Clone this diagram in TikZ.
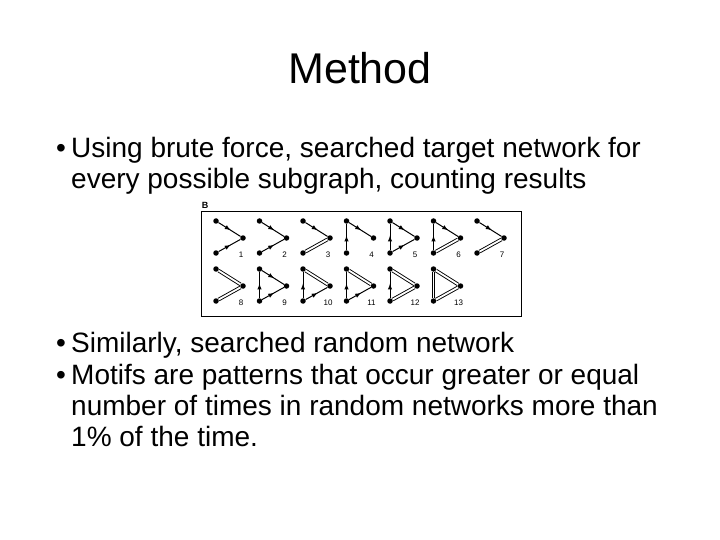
\documentclass[tikz,border=0pt]{standalone}
\usepackage{fontspec}
\setmainfont{Liberation Sans}
\usetikzlibrary{decorations.markings}
\begin{document}
\begin{tikzpicture}[x=1pt,y=-1pt,
  txt/.style={anchor=base west,font=\fontsize{28}{32}\selectfont,inner sep=0},
  dot/.style={circle,fill=black,inner sep=0,minimum size=5.5pt},
  sgl/.style={line width=1pt,postaction={decorate},decoration={markings,mark=at position 0.55 with {\arrow{latex}}}},
  dbl/.style={double,double distance=1.8pt,line width=0.9pt},
  num/.style={font=\fontsize{8}{9}\selectfont,inner sep=0}]
\useasboundingbox (0,0) rectangle (720,540);
\node (title) at (360,68) {\fontsize{43}{48}\selectfont Method};
\node[txt] (b1) at (56,158) {•};
\node[txt] (l1) at (71,158) {Using brute force, searched target network for};
\node[txt] (l2) at (71,189) {every possible subgraph, counting results};
\node[txt] (b2) at (56,352) {•};
\node[txt] (l3) at (71,352) {Similarly, searched random network};
\node[txt] (b3) at (56,384) {•};
\node[txt] (l4) at (71,384) {Motifs are patterns that occur greater or equal};
\node[txt] (l5) at (71,415) {number of times in random networks more than};
\node[txt] (l6) at (71,446) {1\% of the time.};
\node[font=\bfseries\fontsize{9}{10}\selectfont,inner sep=0] (B) at (205,205) {B};
\draw[line width=0.8pt] (201,211) rectangle (521,316);
\newcommand{\motif}[6]{%
  \begin{scope}[shift={(#1,#2)}]
  \node[dot] (tl) at (0,0) {};
  \node[dot] (r) at (27,17) {};
  \node[dot] (bl) at (0,32) {};
  \ifx s#4 \draw[sgl] (tl) -- (r);\fi
  \ifx d#4 \draw[dbl] (tl) -- (r);\fi
  \ifx s#5 \draw[sgl] (bl) -- (r);\fi
  \ifx d#5 \draw[dbl] (bl) -- (r);\fi
  \ifx s#6 \draw[sgl] (bl) -- (tl);\fi
  \ifx d#6 \draw[dbl] (bl) -- (tl);\fi
  \node[num] (n) at (25,34) {#3};
  \end{scope}}
\motif{216}{221}{1}{s}{s}{n}
\motif{259.5}{221}{2}{s}{s}{n}
\motif{303}{221}{3}{s}{d}{n}
\motif{346.5}{221}{4}{s}{n}{s}
\motif{390}{221}{5}{s}{s}{s}
\motif{433.5}{221}{6}{s}{d}{s}
\motif{477}{221}{7}{s}{d}{n}
\motif{216}{269}{8}{d}{d}{n}
\motif{259.5}{269}{9}{s}{s}{s}
\motif{303}{269}{10}{d}{s}{s}
\motif{346.5}{269}{11}{d}{s}{s}
\motif{390}{269}{12}{d}{d}{s}
\motif{433.5}{269}{13}{d}{d}{d}
\end{tikzpicture}
\end{document}
